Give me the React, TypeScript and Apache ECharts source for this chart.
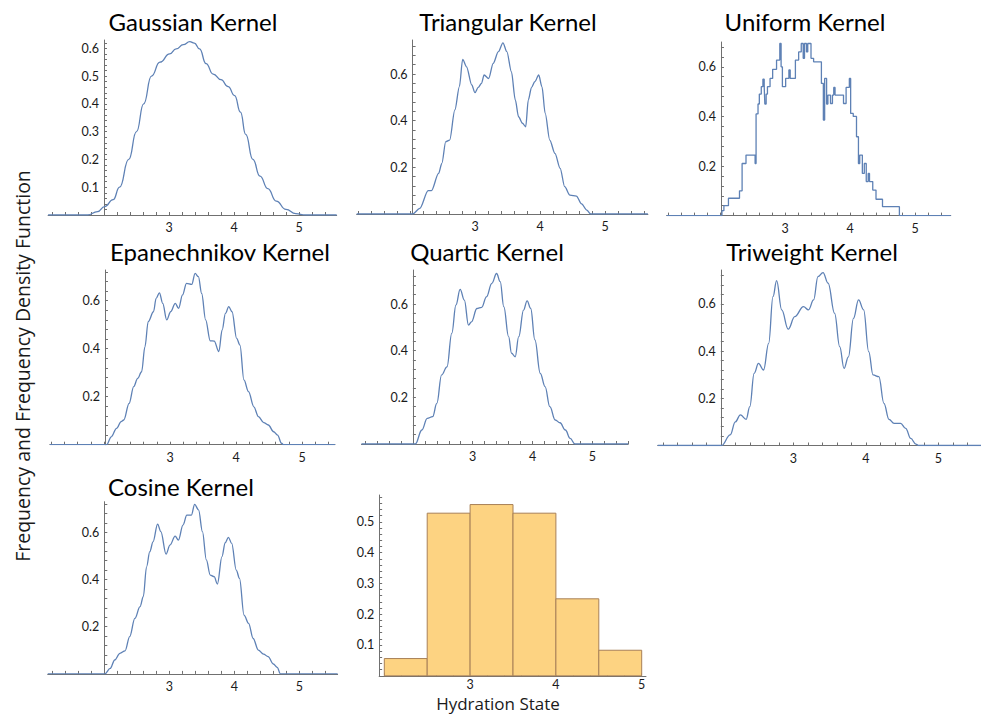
import React, { useEffect, useRef } from "react";
import * as echarts from "echarts";

// ---- kernel density estimates (hydration state vs. density) ----
const gaussianX = [1.14, 1.75, 1.9, 2.01, 2.14, 2.24, 2.38, 2.5, 2.61, 2.73, 2.86, 3.01, 3.11, 3.22, 3.32, 3.39, 3.47, 3.57, 3.68, 3.8, 3.91, 4.01, 4.1, 4.18, 4.29, 4.4, 4.52, 4.65, 4.8, 4.95, 5.1, 5.58];
const gaussianY = [0, 0, 0.012, 0.03, 0.055, 0.1, 0.2, 0.3, 0.4, 0.5, 0.55, 0.58, 0.598, 0.613, 0.624, 0.619, 0.598, 0.545, 0.507, 0.487, 0.462, 0.43, 0.37, 0.29, 0.2, 0.14, 0.095, 0.05, 0.02, 0.005, 0, 0];

const triangularX = [1.18, 2.04, 2.15, 2.28, 2.33, 2.44, 2.49, 2.55, 2.61, 2.69, 2.76, 2.81, 2.87, 2.95, 3.0, 3.05, 3.1, 3.14, 3.21, 3.28, 3.36, 3.43, 3.49, 3.56, 3.62, 3.67, 3.73, 3.78, 3.82, 3.87, 3.92, 3.98, 4.03, 4.08, 4.15, 4.23, 4.31, 4.38, 4.46, 4.56, 4.64, 4.72, 4.78, 5.66];
const triangularY = [0, 0, 0.024, 0.1, 0.1, 0.174, 0.217, 0.31, 0.317, 0.446, 0.546, 0.663, 0.631, 0.553, 0.52, 0.543, 0.56, 0.596, 0.581, 0.646, 0.696, 0.734, 0.696, 0.61, 0.489, 0.417, 0.389, 0.374, 0.489, 0.543, 0.567, 0.596, 0.546, 0.431, 0.317, 0.26, 0.196, 0.117, 0.081, 0.077, 0.043, 0.017, 0, 0];

// uniform kernel: piecewise-constant levels, each starting at its x
const uniformX = [1.18, 2.015, 2.03, 2.06, 2.13, 2.3, 2.34, 2.4, 2.54, 2.555, 2.585, 2.605, 2.635, 2.66, 2.68, 2.69, 2.71, 2.73, 2.77, 2.81, 2.87, 2.92, 2.94, 2.96, 3.01, 3.06, 3.08, 3.16, 3.21, 3.25, 3.28, 3.3, 3.33, 3.35, 3.4, 3.44, 3.56, 3.59, 3.61, 3.64, 3.66, 3.7, 3.73, 3.75, 3.77, 3.9, 3.94, 3.99, 4.01, 4.05, 4.1, 4.13, 4.15, 4.19, 4.22, 4.25, 4.28, 4.3, 4.35, 4.4, 4.5, 4.76, 5.55];
const uniformY = [0, 0, 0.02, 0.04, 0.07, 0.1, 0.21, 0.244, 0.21, 0.41, 0.45, 0.49, 0.52, 0.55, 0.52, 0.45, 0.49, 0.52, 0.553, 0.59, 0.627, 0.694, 0.6, 0.52, 0.553, 0.587, 0.553, 0.627, 0.66, 0.694, 0.634, 0.694, 0.66, 0.694, 0.634, 0.62, 0.533, 0.385, 0.553, 0.45, 0.486, 0.452, 0.486, 0.517, 0.486, 0.452, 0.517, 0.553, 0.412, 0.4, 0.318, 0.21, 0.244, 0.17, 0.21, 0.137, 0.17, 0.137, 0.103, 0.066, 0.036, 0, 0];

const epanechnikovX = [1.18, 2.04, 2.11, 2.19, 2.26, 2.3, 2.38, 2.45, 2.51, 2.57, 2.62, 2.67, 2.75, 2.79, 2.84, 2.89, 2.95, 3.01, 3.08, 3.13, 3.19, 3.25, 3.33, 3.38, 3.43, 3.48, 3.54, 3.61, 3.67, 3.74, 3.79, 3.84, 3.89, 3.94, 4.01, 4.06, 4.12, 4.19, 4.27, 4.34, 4.42, 4.49, 4.57, 4.63, 4.69, 4.72, 5.5];
const epanechnikovY = [0, 0, 0.033, 0.068, 0.096, 0.103, 0.172, 0.242, 0.276, 0.304, 0.408, 0.513, 0.554, 0.61, 0.633, 0.589, 0.52, 0.554, 0.589, 0.568, 0.624, 0.672, 0.668, 0.714, 0.7, 0.63, 0.52, 0.433, 0.432, 0.388, 0.478, 0.547, 0.575, 0.554, 0.443, 0.415, 0.27, 0.221, 0.158, 0.117, 0.092, 0.082, 0.054, 0.04, 0.006, 0, 0];

const quarticX = [1.14, 2.04, 2.15, 2.24, 2.33, 2.4, 2.48, 2.57, 2.65, 2.72, 2.79, 2.86, 2.93, 2.98, 3.07, 3.15, 3.23, 3.32, 3.4, 3.46, 3.52, 3.6, 3.65, 3.71, 3.77, 3.85, 3.91, 3.97, 4.04, 4.13, 4.21, 4.29, 4.38, 4.46, 4.55, 4.63, 4.71, 5.6];
const quarticY = [0, 0, 0.06, 0.11, 0.117, 0.174, 0.296, 0.331, 0.474, 0.596, 0.663, 0.617, 0.51, 0.524, 0.581, 0.586, 0.631, 0.689, 0.731, 0.696, 0.589, 0.46, 0.389, 0.374, 0.46, 0.574, 0.614, 0.581, 0.446, 0.303, 0.246, 0.16, 0.103, 0.091, 0.06, 0.024, 0, 0];

const triweightX = [1.13, 2.01, 2.13, 2.2, 2.27, 2.35, 2.4, 2.46, 2.52, 2.59, 2.66, 2.72, 2.77, 2.84, 2.93, 3.02, 3.14, 3.21, 3.28, 3.34, 3.41, 3.48, 3.57, 3.64, 3.7, 3.76, 3.83, 3.9, 3.97, 4.04, 4.1, 4.18, 4.25, 4.32, 4.39, 4.48, 4.55, 4.62, 4.69, 4.73, 5.59];
const triweightY = [0, 0, 0.045, 0.1, 0.13, 0.111, 0.165, 0.306, 0.348, 0.32, 0.433, 0.631, 0.699, 0.575, 0.493, 0.546, 0.589, 0.575, 0.617, 0.716, 0.733, 0.688, 0.56, 0.419, 0.327, 0.376, 0.539, 0.617, 0.575, 0.398, 0.299, 0.292, 0.179, 0.111, 0.094, 0.094, 0.073, 0.03, 0.006, 0, 0];

const cosineX = [1.13, 2.01, 2.09, 2.16, 2.24, 2.32, 2.39, 2.47, 2.55, 2.6, 2.65, 2.7, 2.75, 2.82, 2.87, 2.95, 3.01, 3.09, 3.14, 3.21, 3.27, 3.34, 3.39, 3.45, 3.51, 3.57, 3.63, 3.69, 3.74, 3.81, 3.86, 3.91, 3.96, 4.03, 4.08, 4.15, 4.22, 4.29, 4.37, 4.45, 4.52, 4.6, 4.66, 4.71, 5.59];
const cosineY = [0, 0, 0.023, 0.059, 0.087, 0.098, 0.158, 0.235, 0.285, 0.327, 0.454, 0.518, 0.56, 0.635, 0.603, 0.508, 0.546, 0.584, 0.567, 0.631, 0.673, 0.673, 0.719, 0.695, 0.603, 0.483, 0.419, 0.412, 0.381, 0.497, 0.556, 0.579, 0.553, 0.44, 0.405, 0.249, 0.214, 0.15, 0.101, 0.084, 0.073, 0.042, 0.028, 0, 0];

// ---- histogram (probability density per bin) ----
const binEdges = [2, 2.5, 3, 3.5, 4, 4.5, 5];
const binDensity = [0.056, 0.528, 0.556, 0.528, 0.25, 0.083];

// ---- tick labels ----
const xTickLabels = [3, 4, 5];
const yLabelsTenths = [0.1, 0.2, 0.3, 0.4, 0.5, 0.6];
const yLabelsFifths = [0.2, 0.4, 0.6];
const yLabelsHist = [0.1, 0.2, 0.3, 0.4, 0.5];

const titles = [
  "Gaussian Kernel",
  "Triangular Kernel",
  "Uniform Kernel",
  "Epanechnikov Kernel",
  "Quartic Kernel",
  "Triweight Kernel",
  "Cosine Kernel",
];
const xAxisName = "Hydration State";
const yAxisName = "Frequency and Frequency Density Function";

const LINE = "#5E81B5";
const AXIS = "#707070";
const TEXT = "#1a1a1a";
const FONT = "Lato, 'Open Sans', sans-serif";
const LABEL_FONT = "'Open Sans', Lato, sans-serif";

type Panel = {
  px3: number; // pixel of x = 3
  unit: number; // pixels per x unit
  xMin: number;
  xMax: number;
  cross: number; // x where the vertical axis sits
  y0: number; // pixel of y = 0
  yTop: number; // pixel of top of vertical axis
  yMax: number;
  yLabels: number[];
  yMinor: number;
  labelMargin: number;
  title?: string;
  titleX?: number;
  titleY?: number;
};

const panels: Panel[] = [
  { px3: 169, unit: 65, xMin: 1.14, xMax: 5.58, cross: 2.0, y0: 215, yTop: 40, yMax: 0.63, yLabels: yLabelsTenths, yMinor: 0.02, labelMargin: 6, title: titles[0], titleX: 193, titleY: 21 },
  { px3: 475, unit: 65, xMin: 1.18, xMax: 5.66, cross: 2.04, y0: 214, yTop: 40, yMax: 0.746, yLabels: yLabelsFifths, yMinor: 0.04, labelMargin: 6, title: titles[1], titleX: 508, titleY: 21 },
  { px3: 785, unit: 65, xMin: 1.18, xMax: 5.55, cross: 2.015, y0: 215.6, yTop: 42, yMax: 0.7, yLabels: yLabelsFifths, yMinor: 0.04, labelMargin: 6, title: titles[2], titleX: 805, titleY: 21 },
  { px3: 170, unit: 66, xMin: 1.18, xMax: 5.5, cross: 2.015, y0: 444.7, yTop: 270, yMax: 0.728, yLabels: yLabelsFifths, yMinor: 0.04, labelMargin: 6, title: titles[3], titleX: 220, titleY: 251 },
  { px3: 472.7, unit: 59.8, xMin: 1.14, xMax: 5.6, cross: 2.0, y0: 444, yTop: 270, yMax: 0.746, yLabels: yLabelsFifths, yMinor: 0.04, labelMargin: 6, title: titles[4], titleX: 487, titleY: 251 },
  { px3: 793.3, unit: 72.5, xMin: 1.13, xMax: 5.59, cross: 2.0, y0: 445.5, yTop: 270, yMax: 0.744, yLabels: yLabelsFifths, yMinor: 0.04, labelMargin: 6, title: titles[5], titleX: 812, titleY: 251 },
  { px3: 169.3, unit: 65, xMin: 1.13, xMax: 5.59, cross: 2.0, y0: 673.9, yTop: 501.7, yMax: 0.73, yLabels: yLabelsFifths, yMinor: 0.04, labelMargin: 6, title: titles[6], titleX: 181, titleY: 486 },
  { px3: 470.1, unit: 85.8, xMin: 1.94, xMax: 5.05, cross: 1.94, y0: 675.8, yTop: 495, yMax: 0.587, yLabels: yLabelsHist, yMinor: 0.02, labelMargin: 2 },
];

const curves: [number[], number[], boolean, number][] = [
  [gaussianX, gaussianY, false, 0.5],
  [triangularX, triangularY, false, 0.3],
  [uniformX, uniformY, true, 0],
  [epanechnikovX, epanechnikovY, false, 0.35],
  [quarticX, quarticY, false, 0.4],
  [triweightX, triweightY, false, 0.4],
  [cosineX, cosineY, false, 0.35],
];

function stepsBetween(lo: number, hi: number, step: number): number[] {
  const out: number[] = [];
  const start = Math.ceil(lo / step - 1e-9);
  for (let k = start; k * step <= hi + 1e-9; k++) out.push(Math.round(k * step * 1000) / 1000);
  return out;
}

function buildOption() {
  const grid: any[] = [];
  const xAxis: any[] = [];
  const yAxis: any[] = [];
  const series: any[] = [];
  const graphic: any[] = [];

  panels.forEach((p, i) => {
    const left = p.px3 + (p.xMin - 3) * p.unit;
    const right = p.px3 + (p.xMax - 3) * p.unit;
    const crossPx = p.px3 + (p.cross - 3) * p.unit;
    grid.push({
      left,
      top: p.yTop,
      width: right - left,
      height: p.y0 - p.yTop,
      containLabel: false,
      outerBoundsMode: "none",
    });
    xAxis.push({
      type: "value",
      gridIndex: i,
      min: p.xMin,
      max: p.xMax,
      splitLine: { show: false },
      axisLine: { show: true, lineStyle: { color: AXIS, width: 1 } },
      axisTick: {
        show: true,
        inside: true,
        length: 3,
        lineStyle: { color: AXIS },
        customValues: stepsBetween(p.xMin, p.xMax, 0.2),
      },
      axisLabel: {
        show: true,
        customValues: xTickLabels,
        color: TEXT,
        fontSize: 12.5,
        fontFamily: FONT,
        margin: p.labelMargin,
        formatter: (v: number) => String(v),
      },
    });
    yAxis.push({
      type: "value",
      gridIndex: i,
      min: 0,
      max: p.yMax,
      position: "left",
      offset: -(crossPx - left),
      splitLine: { show: false },
      axisLine: { show: true, onZero: false, lineStyle: { color: AXIS, width: 1 } },
      axisTick: {
        show: true,
        inside: true,
        length: 3,
        lineStyle: { color: AXIS },
        customValues: stepsBetween(0, p.yMax, p.yMinor),
      },
      axisLabel: {
        show: true,
        customValues: p.yLabels,
        color: TEXT,
        fontSize: 12.5,
        fontFamily: FONT,
        margin: 5,
        formatter: (v: number) => String(v),
      },
    });
    if (p.title) {
      graphic.push({
        type: "text",
        x: p.titleX,
        y: p.titleY,
        style: {
          text: p.title,
          fontSize: 24,
          fontWeight: "normal",
          fontFamily: FONT,
          fill: "#000",
          textAlign: "center",
          textVerticalAlign: "middle",
        },
      });
    }
  });

  curves.forEach(([xs, ys, stepped, smooth], i) => {
    series.push({
      type: "line",
      xAxisIndex: i,
      yAxisIndex: i,
      data: xs.map((x, k) => [x, ys[k]]),
      showSymbol: false,
      symbol: "none",
      smooth: stepped ? false : smooth,
      smoothMonotone: "x",
      step: stepped ? "end" : false,
      lineStyle: { color: LINE, width: 1.3 },
      silent: true,
    });
  });

  series.push({
    type: "custom",
    xAxisIndex: 7,
    yAxisIndex: 7,
    data: binDensity.map((d, k) => [binEdges[k], binEdges[k + 1], d]),
    encode: { x: [0, 1], y: 2 },
    renderItem: (_params: any, api: any) => {
      const a = api.coord([api.value(0), api.value(2)]);
      const b = api.coord([api.value(1), 0]);
      return {
        type: "rect",
        shape: { x: a[0], y: a[1], width: b[0] - a[0], height: b[1] - a[1] },
        style: { fill: "#FDD382", stroke: "#A88057", lineWidth: 1 },
      };
    },
    silent: true,
  });

  graphic.push({
    type: "text",
    x: 498,
    y: 703,
    style: {
      text: xAxisName,
      fontSize: 17,
      fontFamily: LABEL_FONT,
      fill: TEXT,
      textAlign: "center",
      textVerticalAlign: "middle",
    },
  });
  graphic.push({
    type: "text",
    x: 22,
    y: 366,
    rotation: Math.PI / 2,
    style: {
      text: yAxisName,
      fontSize: 19.5,
      fontFamily: LABEL_FONT,
      fill: TEXT,
      textAlign: "center",
      textVerticalAlign: "middle",
    },
  });

  return {
    animation: false,
    backgroundColor: "#ffffff",
    grid,
    xAxis,
    yAxis,
    series,
    graphic,
  };
}

export default function App() {
  const ref = useRef<HTMLDivElement>(null);
  useEffect(() => {
    if (!ref.current) return;
    const chart = echarts.init(ref.current, undefined, { renderer: "svg" });
    chart.setOption(buildOption() as any);
    return () => chart.dispose();
  }, []);
  return (
    <div
      ref={ref}
      style={{ position: "absolute", left: 0, top: 0, width: 981, height: 714, background: "#fff" }}
    />
  );
}
